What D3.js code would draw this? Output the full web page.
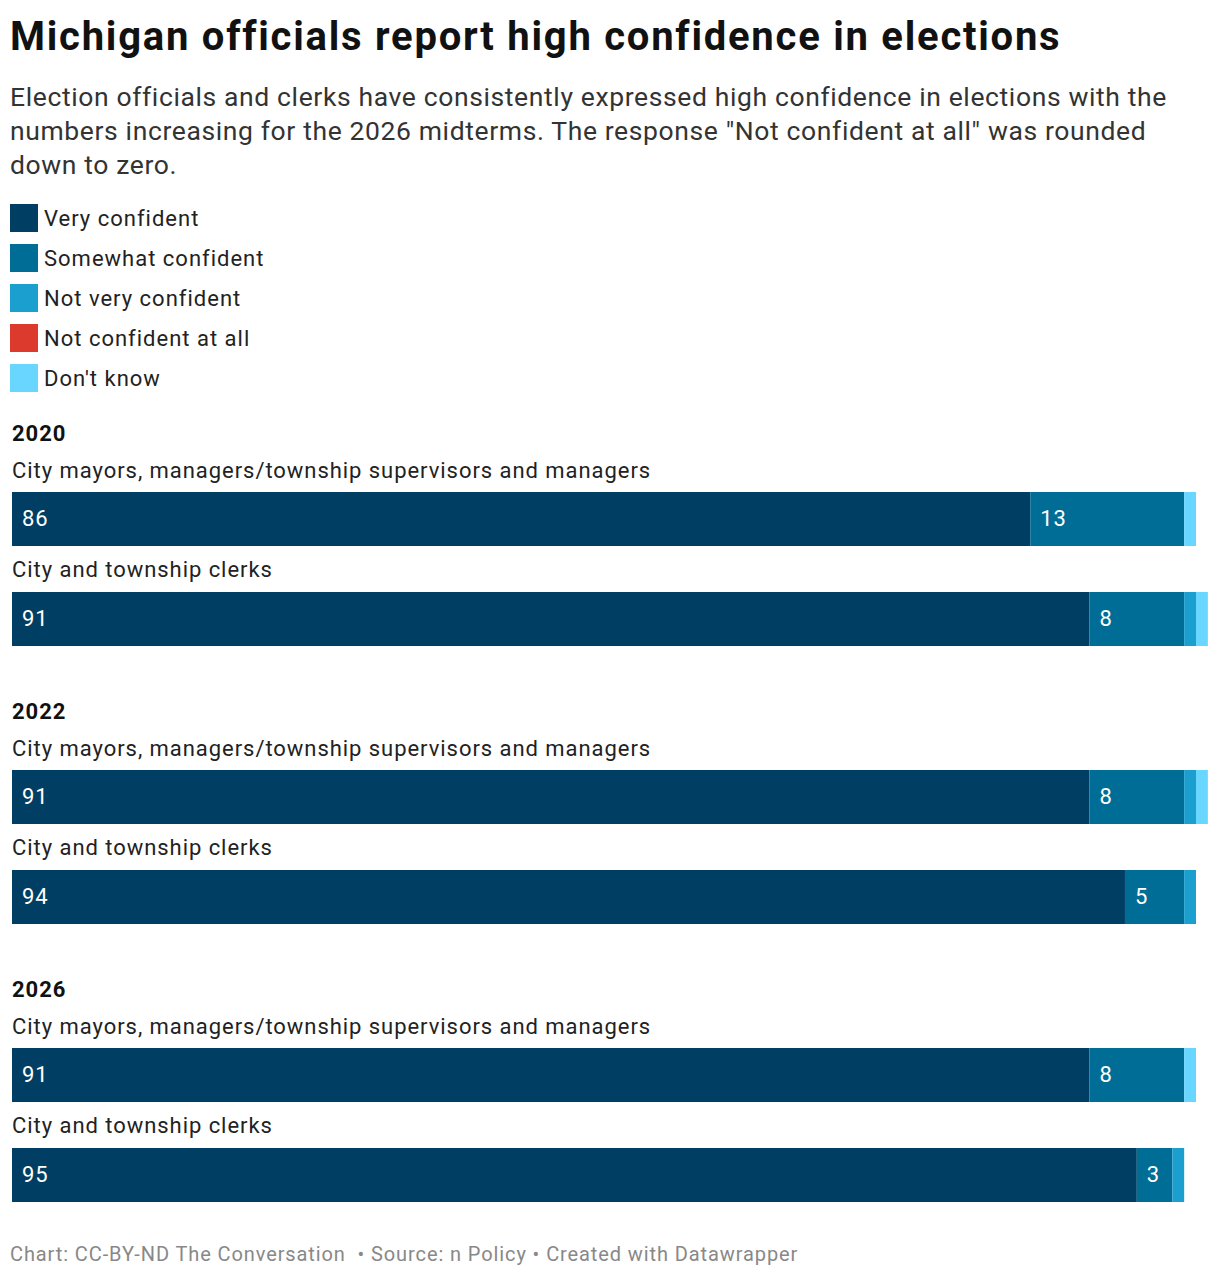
<!DOCTYPE html>
<html><head><meta charset="utf-8">
<script src="https://cdn.jsdelivr.net/npm/d3@7"></script>
<style>
body{margin:0;background:#fff;font-family:Roboto,"Noto Sans",sans-serif;}
svg text{font-family:Roboto,"Noto Sans",sans-serif;white-space:pre;}
</style></head>
<body><svg id="c" width="1220" height="1278"></svg>
<script>
const categories = ["Very confident","Somewhat confident","Not very confident","Not confident at all","Don't know"];
const colors = ["#003f63","#006d96","#1a9fcf","#db3a2c","#68d6ff"];
const years = ["2020","2022","2026"];
const rowLabels = ["City mayors, managers/township supervisors and managers","City and township clerks"];
// values per year, per row, in category order
const values2020 = [[86,13,0,0,1],[91,8,1,0,1]];
const values2022 = [[91,8,1,0,1],[94,5,1,0,0]];
const values2026 = [[91,8,0,0,1],[95,3,1,0,0]];
const allValues = [values2020, values2022, values2026];

const svg = d3.select("#c");
const x = d3.scaleLinear().domain([0,100]).range([12,1196]);
const color = d3.scaleOrdinal().domain(categories).range(colors);

svg.append("text").attr("x",10).attr("y",50).attr("font-size",40).attr("font-weight",700).attr("fill","#111")
  .attr("letter-spacing",1.75).text("Michigan officials report high confidence in elections");
const sub = ["Election officials and clerks have consistently expressed high confidence in elections with the",
 "numbers increasing for the 2026 midterms. The response \"Not confident at all\" was rounded",
 "down to zero."];
sub.forEach((s,i)=>svg.append("text").attr("x",10).attr("y",106+i*34).attr("font-size",26.5).attr("fill","#333")
  .attr("letter-spacing",0.62).text(s));

const lg = svg.append("g");
categories.forEach((c,i)=>{
  lg.append("rect").attr("x",10).attr("y",204+i*40).attr("width",28).attr("height",28).attr("fill",color(c));
  lg.append("text").attr("x",44).attr("y",226+i*40).attr("font-size",22).attr("fill","#222")
    .attr("letter-spacing",1).text(c);
});

const groupY = d3.scaleOrdinal().domain(years).range([492,770,1048]);
years.forEach((yr,gi)=>{
  const g0 = groupY(yr);
  svg.append("text").attr("x",12).attr("y",g0-51).attr("font-size",22).attr("font-weight",700).attr("fill","#111")
    .attr("letter-spacing",1).text(yr);
  allValues[gi].forEach((vals,ri)=>{
    const by = g0 + ri*100;
    svg.append("text").attr("x",12).attr("y",by-14-ri*1.5).attr("font-size",22).attr("fill","#222")
      .attr("letter-spacing",0.95).text(rowLabels[ri]);
    const stack = [];
    let cum = 0;
    vals.forEach((v,ci)=>{ stack.push({c:categories[ci],v:v,x0:cum,x1:cum+v}); cum+=v; });
    const g = svg.append("g");
    g.selectAll("rect").data(stack.filter(d=>d.v>0)).join("rect")
      .attr("x",d=>x(d.x0)).attr("y",by).attr("width",d=>x(d.x1)-x(d.x0)).attr("height",54)
      .attr("fill",d=>color(d.c));
    g.selectAll("text").data(stack.filter(d=>d.v>=3)).join("text")
      .attr("x",d=>x(d.x0)+10).attr("y",by+34).attr("font-size",22).attr("fill","#fff")
      .attr("letter-spacing",1).text(d=>d.v);
  });
});

svg.append("text").attr("x",10).attr("y",1261).attr("font-size",20).attr("fill","#888")
  .attr("letter-spacing",0.9)
  .text("Chart: CC-BY-ND The Conversation  \u2022 Source: n Policy \u2022 Created with Datawrapper");
</script></body></html>
